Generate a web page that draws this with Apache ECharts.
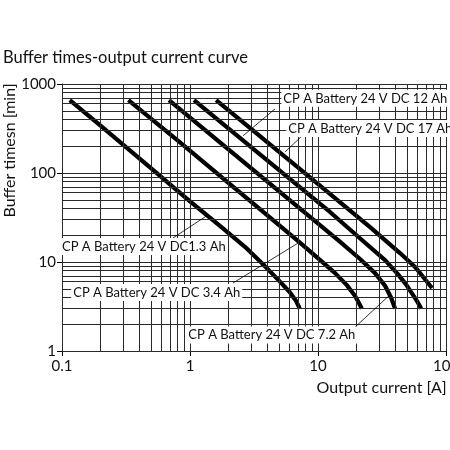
<!DOCTYPE html>
<html>
<head>
<meta charset="utf-8">
<script src="https://cdn.jsdelivr.net/npm/echarts@6/dist/echarts.min.js"></script>
<style>
    html, body { margin: 0; padding: 0; background: #fff; }
    #chart { width: 450px; height: 450px; }
</style>
</head>
<body>
<div id="chart"></div>
<script>
    // output current [A] and buffer time [min]
    var cur13 = [0.115, 0.2, 0.5, 1.0, 1.8, 2.7, 3.7, 5.0, 6.0, 6.7, 7.2];
    var min13 = [660, 340, 112, 48, 24, 14.7, 9.5, 6.1, 4.6, 3.7, 3.0];
    var cur34 = [0.33, 0.84, 2.05, 3.5, 7.0, 10.4, 13.6, 16.8, 19.5, 22];
    var min34 = [660, 220, 75, 39.5, 17.2, 10.5, 7.5, 5.5, 4.15, 3.0];
    var cur72 = [0.685, 2.05, 7.2, 14.9, 21.3, 27.9, 33.4, 37.2, 40];
    var min72 = [660, 178, 40, 16.8, 10.8, 7.5, 5.4, 4.0, 3.0];
    var cur12 = [1.075, 3.5, 12.4, 22.5, 33.4, 41.4, 48.7, 54.2, 59.3, 64];
    var min12 = [660, 163, 36.5, 17.2, 10.5, 7.5, 5.6, 4.45, 3.65, 3.0];
    var cur17 = [1.6, 7.2, 25.5, 43.7, 57.3, 68.5, 77.8];
    var min17 = [660, 111, 24.7, 12.6, 8.8, 6.4, 5.1];

    var names = [
        'CP A Battery 24 V DC1.3 Ah',
        'CP A Battery 24 V DC 3.4 Ah',
        'CP A Battery 24 V DC 7.2 Ah',
        'CP A Battery 24 V DC 12 Ah',
        'CP A Battery 24 V DC 17 Ah'
    ];

    // tick / grid values
    var gridMult = [1, 2, 3, 4, 5, 6, 7, 8, 9];
    var xDecades = [0.1, 1, 10];
    var yDecades = [1, 10, 100];

    // where the callout text sits and where its leader goes (data units)
    var noteAt = [[0.1001, 14.9], [0.118, 4.54], [0.936, 1.51], [5.17, 690], [5.65, 316]];
    var leadFrom = [[0.736, 18.6], [2.17, 5.81], [18.4, 1.72], [4.61, 524], [7.63, 267]];
    var leadTo = [[1.38, 33.7], [6.98, 16.3], [36, 4.2], [2.6, 262], [5.52, 172]];

    var font = 'Lato, "Open Sans", sans-serif';
    var ink = '#111';

    function pairs(xs, ys) {
        return xs.map(function (x, i) { return [x, ys[i]]; });
    }

    var gridLines = [];
    xDecades.forEach(function (d) {
        gridMult.forEach(function (m) { gridLines.push({ xAxis: d * m }); });
    });
    gridLines.push({ xAxis: 100 });
    yDecades.forEach(function (d) {
        gridMult.forEach(function (m) { gridLines.push({ yAxis: d * m }); });
    });
    gridLines.push({ yAxis: 1000 });

    var curves = [[cur13, min13], [cur34, min34], [cur72, min72], [cur12, min12], [cur17, min17]];

    var series = [{
        name: 'grid',
        type: 'line',
        data: [],
        z: 1,
        silent: true,
        markLine: {
            silent: true,
            animation: false,
            symbol: ['none', 'none'],
            label: { show: false },
            lineStyle: { color: '#2a2a2a', width: 1, type: 'solid' },
            data: gridLines
        }
    }];

    curves.forEach(function (c, i) {
        series.push({
            name: names[i],
            type: 'line',
            data: pairs(c[0], c[1]),
            z: 3,
            showSymbol: false,
            clip: false,
            lineStyle: { color: '#000', width: 4.2, cap: 'butt', join: 'round' },
            markLine: {
                silent: true,
                animation: false,
                symbol: ['none', 'none'],
                label: { show: false },
                lineStyle: { color: '#000', width: 0.8, type: 'solid' },
                data: [[{ coord: leadFrom[i] }, { coord: leadTo[i] }]]
            },
            markPoint: {
                silent: true,
                animation: false,
                symbol: 'circle',
                symbolSize: 0,
                label: {
                    show: true,
                    position: 'right',
                    distance: 0,
                    offset: i === 0 ? [-2, 0] : [0, 0],
                    formatter: '{b}',
                    color: ink,
                    fontFamily: font,
                    fontSize: 13,
                    backgroundColor: '#fff',
                    padding: [2, 2]
                },
                data: [{ name: names[i], coord: noteAt[i] }]
            }
        });
    });

    var chart = echarts.init(document.getElementById('chart'));
    chart.setOption({
        animation: false,
        title: [{
            text: 'Buffer times-output current curve',
            left: 3,
            top: 49,
            padding: 0,
            textStyle: { color: ink, fontFamily: font, fontSize: 16.5, fontWeight: 'normal' }
        }],
        grid: {
            left: 62, top: 84, right: 4, bottom: 99,
            containLabel: false,
            outerBoundsMode: 'none'
        },
        xAxis: {
            type: 'log',
            logBase: 10,
            min: 0.1,
            max: 100,
            name: 'Output current [A]',
            nameLocation: 'middle',
            nameGap: 29,
            nameMoveOverlap: false,
            nameTextStyle: { color: ink, fontFamily: font, fontSize: 16, padding: [0, 0, 0, 255] },
            axisLine: { lineStyle: { color: '#000', width: 1 } },
            axisTick: { show: true, inside: false, length: 5, lineStyle: { color: '#000' } },
            axisLabel: {
                color: ink, fontFamily: font, fontSize: 15, margin: 8,
                formatter: function (v) { return String(Number(v.toPrecision(3))); }
            },
            splitLine: { show: false }
        },
        yAxis: {
            type: 'log',
            logBase: 10,
            min: 1,
            max: 1000,
            name: 'Buffer timesn [min]',
            nameLocation: 'middle',
            nameGap: 44,
            nameMoveOverlap: false,
            nameTextStyle: { color: ink, fontFamily: font, fontSize: 16, padding: [0, 0, 0, 134] },
            axisLine: { lineStyle: { color: '#000', width: 1 } },
            axisTick: { show: true, inside: false, length: 5, lineStyle: { color: '#000' } },
            axisLabel: {
                color: ink, fontFamily: font, fontSize: 15, margin: 6,
                formatter: function (v) { return String(Number(v.toPrecision(3))); }
            },
            splitLine: { show: false }
        },
        series: series
    });
</script>
</body>
</html>
